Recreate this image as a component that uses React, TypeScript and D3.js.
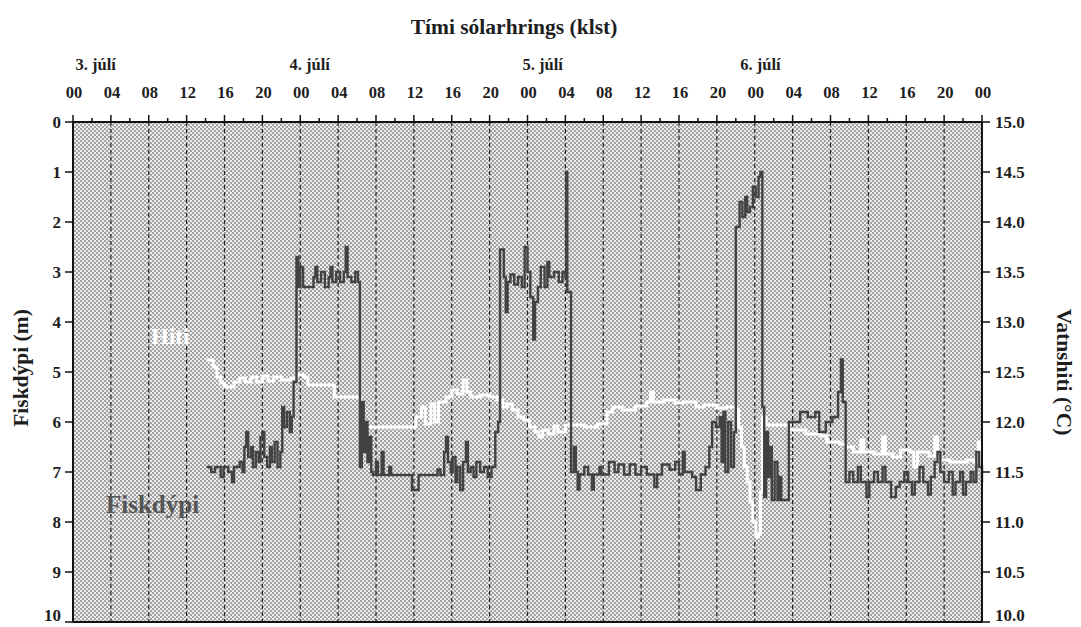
import React from "react";
import * as d3 from "d3";

// ---- data ----
const hourTicks = ["00", "04", "08", "12", "16", "20", "00", "04", "08", "12", "16", "20", "00", "04", "08", "12", "16", "20", "00", "04", "08", "12", "16", "20", "00"];
const dayLabels = ["3. júlí", "4. júlí", "5. júlí", "6. júlí"];
const dayLabelHours = [2.4, 25.0, 49.6, 72.6];
const depthTicks = [0, 1, 2, 3, 4, 5, 6, 7, 8, 9, 10];
const tempTicks = [10.0, 10.5, 11.0, 11.5, 12.0, 12.5, 13.0, 13.5, 14.0, 14.5, 15.0];

// fish depth (m): [hour from 3. júlí 00:00, depth]
const depthData: [number, number][] = [
  [14.1, 6.9], [14.6, 7.0], [15.0, 6.9], [15.6, 7.1], [15.9, 6.9], [16.4, 7.0], [16.8, 7.2], [17.0, 6.9],
  [17.6, 6.8], [17.9, 7.0], [18.1, 6.5], [18.3, 6.2], [18.5, 6.7], [18.8, 6.5], [19.0, 6.9], [19.3, 6.6],
  [19.6, 6.8], [19.8, 6.3], [20.0, 6.2], [20.2, 6.7], [20.5, 6.9], [20.8, 6.5], [21.0, 6.8], [21.3, 6.4],
  [21.6, 6.9], [21.9, 6.6], [22.1, 5.7], [22.3, 6.1], [22.6, 5.8], [22.9, 6.2], [23.1, 5.9], [23.3, 5.2],
  [23.6, 2.7], [23.8, 3.3], [24.0, 2.9], [24.3, 3.3], [25.0, 3.3], [25.4, 3.1], [25.6, 2.9], [25.8, 3.2],
  [26.2, 3.0], [26.6, 3.3], [27.0, 3.1], [27.2, 2.9], [27.4, 3.2], [27.8, 3.0], [28.2, 3.2], [28.6, 3.0],
  [28.8, 2.5], [29.0, 3.1], [29.4, 3.2], [29.8, 3.0], [30.1, 3.2], [30.3, 6.9], [30.5, 5.6], [30.7, 6.6],
  [30.9, 6.0], [31.1, 6.8], [31.3, 6.3], [31.5, 7.0], [31.7, 7.06], [32.0, 6.8], [32.2, 7.06], [32.6, 6.6],
  [32.8, 7.06], [33.4, 6.9], [33.6, 7.06], [35.8, 7.36], [36.5, 7.06], [38.5, 6.95], [38.8, 7.06], [39.2, 6.6],
  [39.4, 6.3], [39.6, 6.8], [39.9, 7.0], [40.1, 6.7], [40.4, 7.2], [40.6, 6.9], [40.9, 7.36], [41.2, 6.8],
  [41.5, 6.4], [41.7, 7.0], [42.0, 6.9], [42.3, 7.1], [42.6, 6.8], [43.0, 7.0], [43.4, 6.9], [43.8, 7.1],
  [44.2, 6.9], [44.6, 6.2], [44.9, 6.0], [45.1, 2.55], [45.5, 3.1], [45.7, 3.8], [45.9, 3.2], [46.2, 3.05],
  [46.6, 3.25], [47.0, 3.1], [47.4, 3.3], [47.7, 2.5], [48.0, 3.0], [48.3, 3.5], [48.6, 4.35], [48.8, 3.6],
  [49.1, 3.3], [49.4, 2.9], [49.8, 3.3], [50.1, 2.8], [50.3, 3.1], [50.8, 3.0], [51.3, 3.2], [51.7, 3.0],
  [52.0, 3.1], [52.1, 1.0], [52.2, 3.4], [52.6, 7.0], [52.9, 6.5], [53.1, 7.0], [53.3, 7.35], [53.5, 7.05],
  [54.0, 6.9], [54.4, 7.05], [54.8, 7.35], [55.0, 7.05], [55.6, 6.9], [55.8, 7.05], [56.6, 6.8], [57.2, 7.0],
  [57.6, 6.85], [58.2, 7.05], [58.8, 6.85], [59.4, 7.05], [60.0, 6.9], [60.6, 7.05], [61.4, 7.3], [61.7, 7.05],
  [62.2, 6.85], [63.0, 6.95], [63.6, 6.8], [64.0, 7.05], [64.4, 6.6], [64.6, 7.0], [65.4, 7.1], [65.8, 7.36],
  [66.3, 7.05], [66.8, 6.9], [67.2, 6.5], [67.5, 6.0], [67.9, 6.1], [68.3, 5.9], [68.5, 6.8], [68.7, 5.8],
  [68.9, 7.0], [69.2, 6.0], [69.5, 6.9], [69.8, 6.2], [70.0, 2.1], [70.4, 1.6], [70.7, 1.9], [71.0, 1.5],
  [71.2, 1.8], [71.5, 1.7], [71.8, 1.3], [72.1, 1.5], [72.4, 1.1], [72.6, 1.0], [72.8, 5.7], [73.0, 7.5],
  [73.2, 6.2], [73.4, 7.1], [73.6, 6.5], [73.8, 7.56], [74.1, 6.8], [74.4, 7.56], [74.6, 7.1], [74.8, 7.56],
  [75.6, 6.0], [76.8, 5.8], [77.6, 5.9], [78.4, 5.8], [78.8, 6.2], [79.5, 6.0], [80.2, 5.9], [80.8, 5.4],
  [81.1, 4.75], [81.3, 5.6], [81.6, 7.2], [82.0, 7.0], [82.4, 7.2], [82.9, 6.9], [83.2, 7.2], [83.8, 7.5],
  [84.1, 7.2], [84.6, 7.0], [85.0, 7.2], [85.5, 6.9], [85.8, 7.2], [86.4, 7.5], [86.9, 7.3], [87.3, 7.2],
  [87.8, 7.0], [88.2, 7.2], [88.6, 7.45], [88.9, 7.2], [89.4, 6.9], [89.8, 7.2], [90.3, 7.45], [90.6, 7.1],
  [91.0, 6.8], [91.3, 6.6], [91.6, 7.0], [92.0, 7.2], [92.5, 7.0], [92.9, 7.45], [93.2, 7.2], [93.7, 7.0],
  [94.0, 7.45], [94.3, 7.2], [94.8, 7.0], [95.1, 7.2], [95.4, 6.6], [95.7, 6.9], [96.0, 7.2],
];

// water temperature (°C): [hour, temp]
const tempData: [number, number][] = [
  [14.1, 12.62], [14.8, 12.55], [15.2, 12.45], [15.6, 12.39], [16.0, 12.35], [17.0, 12.40], [17.6, 12.44],
  [18.2, 12.40], [18.8, 12.45], [19.4, 12.40], [20.0, 12.46], [20.6, 12.41], [21.2, 12.45], [22.0, 12.42],
  [23.0, 12.44], [23.6, 12.47], [24.4, 12.45], [24.8, 12.37], [25.8, 12.37], [27.5, 12.37], [27.6, 12.25],
  [30.3, 12.22], [30.4, 11.95], [35.9, 11.95], [36.2, 12.05], [36.8, 12.15], [37.2, 11.98], [37.8, 12.18],
  [38.2, 12.0], [38.6, 12.2], [39.4, 12.25], [40.0, 12.32], [40.6, 12.28], [41.2, 12.42], [41.6, 12.3],
  [42.0, 12.25], [43.0, 12.27], [44.0, 12.25], [44.8, 12.22], [45.4, 12.15], [45.8, 12.18], [46.4, 12.12],
  [47.0, 12.05], [47.6, 12.02], [48.2, 11.95], [48.8, 11.9], [49.2, 11.85], [49.6, 11.92], [50.2, 11.88],
  [50.8, 11.96], [51.2, 11.9], [52.0, 11.97], [53.0, 11.97], [54.0, 11.95], [55.4, 11.98], [56.4, 12.1],
  [57.0, 12.15], [58.0, 12.12], [59.4, 12.16], [60.6, 12.2], [61.0, 12.3], [61.3, 12.2], [62.4, 12.22],
  [63.6, 12.19], [64.4, 12.2], [65.8, 12.15], [66.6, 12.17], [68.0, 12.14], [69.0, 12.15], [70.0, 12.13],
  [70.3, 11.95], [70.6, 11.75], [70.9, 11.55], [71.2, 11.4], [71.5, 11.2], [71.8, 11.0], [72.1, 10.85],
  [72.4, 10.88], [72.6, 11.3], [72.8, 12.05], [73.2, 11.97], [75.6, 11.92], [77.4, 11.88], [79.0, 11.86],
  [79.6, 11.8], [81.0, 11.78], [81.6, 11.75], [82.4, 11.7], [83.2, 11.82], [83.5, 11.7], [84.6, 11.68],
  [85.5, 11.85], [85.8, 11.68], [86.6, 11.65], [87.4, 11.72], [88.4, 11.7], [88.8, 11.55], [89.2, 11.7],
  [90.4, 11.66], [91.0, 11.85], [91.3, 11.62], [92.6, 11.6], [93.4, 11.6], [94.4, 11.62], [95.2, 11.6],
  [95.6, 11.8], [95.8, 11.55], [96.0, 11.5],
];

const W = 1081;
const H = 627;
const L = 73, R = 982, T = 122, B = 622;
const FONT = "'Liberation Serif', 'Times New Roman', serif";
const INK = "#1e1e1e";

export default function App() {
  const x = d3.scaleLinear().domain([0, 96]).range([L, R]);
  const yD = d3.scaleLinear().domain([0, 10]).range([T, B]);
  const yT = d3.scaleLinear().domain([10, 15]).range([B, T]);

  const depthLine = d3.line<[number, number]>().x((d) => x(d[0])).y((d) => yD(d[1])).curve(d3.curveStepAfter);
  const tempLine = d3.line<[number, number]>().x((d) => x(d[0])).y((d) => yT(d[1])).curve(d3.curveStepAfter);

  const majorHours = d3.range(0, 97, 4);
  const minorHours = d3.range(2, 96, 4);
  const gridHours = d3.range(4, 96, 4);

  return (
    <svg width={W} height={H} style={{ position: "absolute", left: 0, top: 0, background: "#fff" }} fontFamily={FONT}>
      <defs>
        <pattern id="stip" width={4} height={4} patternUnits="userSpaceOnUse">
          <rect width={4} height={4} fill="#ebebeb" />
          <rect x={0} y={0} width={2} height={2} fill="#a2a2a2" />
          <rect x={2} y={2} width={2} height={2} fill="#a2a2a2" />
        </pattern>
      </defs>

      {/* plot background */}
      <rect x={L} y={T} width={R - L} height={B - T} fill="url(#stip)" />

      {/* vertical dashed grid */}
      {gridHours.map((h) => (
        <line key={"g" + h} x1={x(h)} x2={x(h)} y1={T} y2={B} stroke="#222" strokeWidth={1.2} strokeDasharray="4,3" />
      ))}

      {/* temperature line (white) */}
      <path d={tempLine(tempData) || ""} fill="none" stroke="#fff" strokeWidth={3} />

      {/* depth line */}
      <path d={depthLine(depthData) || ""} fill="none" stroke="#424242" strokeWidth={2.4} />

      {/* frame */}
      <line x1={L} x2={R} y1={T} y2={T} stroke="#111" strokeWidth={2} />
      <line x1={L} x2={R} y1={B} y2={B} stroke="#111" strokeWidth={2} />
      <line x1={L} x2={L} y1={T} y2={B} stroke="#111" strokeWidth={2} />
      <line x1={R} x2={R} y1={T} y2={B} stroke="#111" strokeWidth={2} />

      {/* top ticks */}
      {majorHours.map((h) => (
        <line key={"mt" + h} x1={x(h)} x2={x(h)} y1={T} y2={T - 7} stroke="#111" strokeWidth={1.5} />
      ))}
      {minorHours.map((h) => (
        <line key={"nt" + h} x1={x(h)} x2={x(h)} y1={T} y2={T - 4} stroke="#111" strokeWidth={1.5} />
      ))}
      {hourTicks.map((lab, i) => (
        <text key={"hl" + i} x={x(i * 4) + 1} y={98} textAnchor="middle" fontSize={16.5} fontWeight="bold" fill={INK}>
          {lab}
        </text>
      ))}
      {dayLabels.map((lab, i) => (
        <text key={"dl" + i} x={x(dayLabelHours[i])} y={70} textAnchor="middle" fontSize={16.5} fontWeight="bold" fill={INK}>
          {lab}
        </text>
      ))}
      <text x={514} y={34} textAnchor="middle" fontSize={21.5} fontWeight="bold" fill={INK}>
        Tími sólarhrings (klst)
      </text>

      {/* left axis */}
      {depthTicks.map((d) => (
        <g key={"ld" + d}>
          <line x1={L - 8} x2={L} y1={yD(d)} y2={yD(d)} stroke="#111" strokeWidth={1.5} />
          <text x={L - 12} y={Math.min(yD(d) + 6, 621)} textAnchor="end" fontSize={17} fontWeight="bold" fill={INK}>
            {d}
          </text>
        </g>
      ))}
      <text transform={`translate(28,${(T + B) / 2 - 4}) rotate(-90)`} textAnchor="middle" fontSize={21.5} fontWeight="bold" fill={INK}>
        Fiskdýpi (m)
      </text>

      {/* right axis */}
      {tempTicks.map((t) => (
        <g key={"rt" + t}>
          <line x1={R} x2={R + 8} y1={yT(t)} y2={yT(t)} stroke="#111" strokeWidth={1.5} />
          <text x={R + 13} y={Math.min(yT(t) + 6, 621)} textAnchor="start" fontSize={17} fontWeight="bold" fill={INK}>
            {t.toFixed(1)}
          </text>
        </g>
      ))}
      <text transform={`translate(1057,${(T + B) / 2}) rotate(90)`} textAnchor="middle" fontSize={21.5} fontWeight="bold" fill={INK}>
        Vatnshiti (°C)
      </text>

      {/* in-plot labels */}
      <text x={151} y={344} fontSize={23} fontWeight="bold" fill="#fff">Hiti</text>
      <text x={106} y={513} fontSize={25} fontWeight="bold" fill="#555">Fiskdýpi</text>
    </svg>
  );
}
